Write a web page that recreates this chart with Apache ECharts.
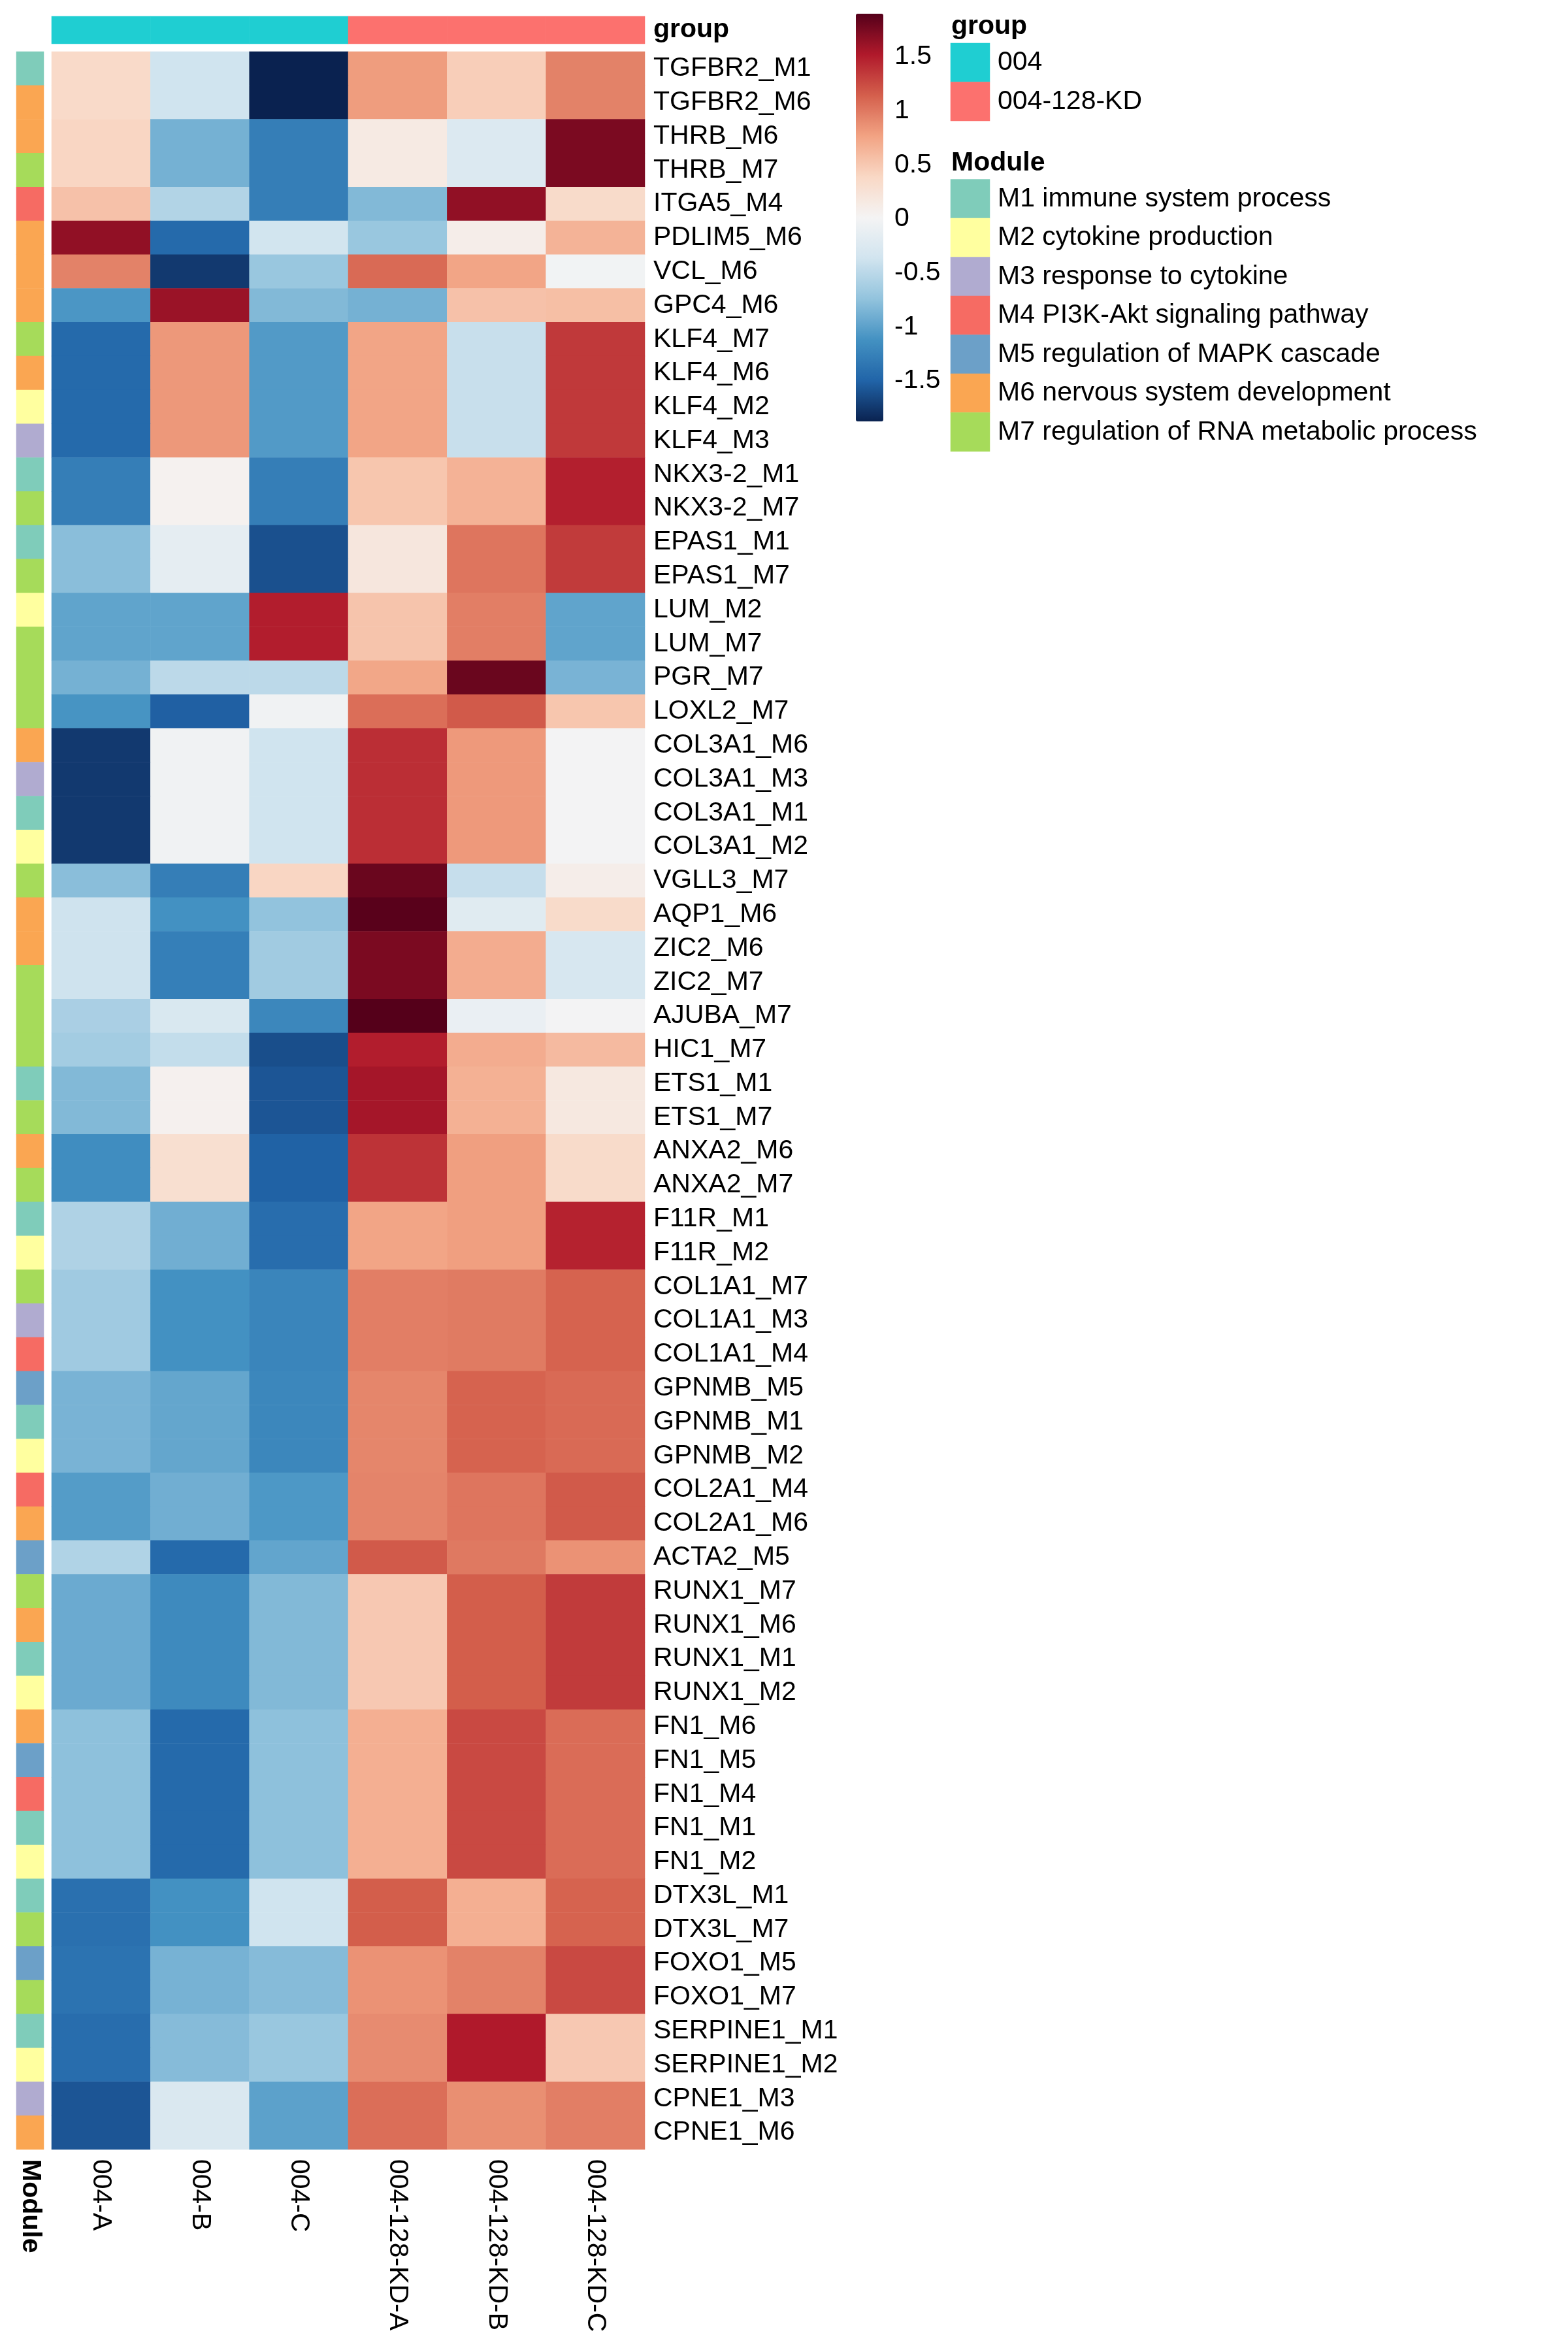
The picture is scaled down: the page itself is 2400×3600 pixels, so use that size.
<!DOCTYPE html>
<html><head><meta charset="utf-8">
<script src="https://cdn.jsdelivr.net/npm/echarts@6/dist/echarts.min.js"></script>
<style>html,body{margin:0;padding:0;background:#fff}#c{width:2400px;height:3600px}</style>
</head><body><div id="c"></div>
<script>
// ---------------- data ----------------
const samples = ['004-A','004-B','004-C','004-128-KD-A','004-128-KD-B','004-128-KD-C'];
const sampleGroup = [0,0,0,1,1,1];
const groupNames = ['004','004-128-KD'];
const groupColors = ['#1FCED2','#FC716E'];
const moduleNames = ['M1 immune system process','M2 cytokine production','M3 response to cytokine',
  'M4 PI3K-Akt signaling pathway','M5 regulation of MAPK cascade','M6 nervous system development',
  'M7 regulation of RNA metabolic process'];
const moduleColors = ['#7FCCBA','#FFFF9F','#B0ABD0','#F66B63','#6CA0C8','#FAA652','#A6DB5A'];
const rowLabels = ['TGFBR2_M1','TGFBR2_M6','THRB_M6','THRB_M7','ITGA5_M4','PDLIM5_M6','VCL_M6','GPC4_M6',
  'KLF4_M7','KLF4_M6','KLF4_M2','KLF4_M3','NKX3-2_M1','NKX3-2_M7','EPAS1_M1','EPAS1_M7','LUM_M2','LUM_M7',
  'PGR_M7','LOXL2_M7','COL3A1_M6','COL3A1_M3','COL3A1_M1','COL3A1_M2','VGLL3_M7','AQP1_M6','ZIC2_M6','ZIC2_M7',
  'AJUBA_M7','HIC1_M7','ETS1_M1','ETS1_M7','ANXA2_M6','ANXA2_M7','F11R_M1','F11R_M2','COL1A1_M7','COL1A1_M3',
  'COL1A1_M4','GPNMB_M5','GPNMB_M1','GPNMB_M2','COL2A1_M4','COL2A1_M6','ACTA2_M5','RUNX1_M7','RUNX1_M6',
  'RUNX1_M1','RUNX1_M2','FN1_M6','FN1_M5','FN1_M4','FN1_M1','FN1_M2','DTX3L_M1','DTX3L_M7','FOXO1_M5',
  'FOXO1_M7','SERPINE1_M1','SERPINE1_M2','CPNE1_M3','CPNE1_M6'];
const values = [
  [0.36,-0.37,-1.874,0.80,0.46,0.95],
  [0.36,-0.37,-1.874,0.80,0.46,0.95],
  [0.40,-0.88,-1.28,0.15,-0.25,1.74],
  [0.40,-0.88,-1.28,0.15,-0.25,1.74],
  [0.55,-0.55,-1.28,-0.82,1.65,0.35],
  [1.65,-1.45,-0.35,-0.70,0.10,0.65],
  [0.95,-1.74,-0.70,1.08,0.75,-0.02],
  [-1.08,1.61,-0.82,-0.88,0.55,0.57],
  [-1.45,0.83,-1.05,0.75,-0.42,1.35],
  [-1.45,0.83,-1.05,0.75,-0.42,1.35],
  [-1.45,0.83,-1.05,0.75,-0.42,1.35],
  [-1.45,0.83,-1.05,0.75,-0.42,1.35],
  [-1.28,0.05,-1.28,0.52,0.66,1.49],
  [-1.28,0.05,-1.28,0.52,0.66,1.49],
  [-0.78,-0.15,-1.61,0.20,1.02,1.34],
  [-0.78,-0.15,-1.61,0.20,1.02,1.34],
  [-0.98,-0.98,1.50,0.53,0.97,-0.98],
  [-0.98,-0.98,1.50,0.53,0.97,-0.98],
  [-0.88,-0.49,-0.49,0.74,1.81,-0.86],
  [-1.10,-1.52,-0.03,1.06,1.17,0.52],
  [-1.74,-0.03,-0.37,1.41,0.82,0.00],
  [-1.74,-0.03,-0.37,1.41,0.82,0.00],
  [-1.74,-0.03,-0.37,1.41,0.82,0.00],
  [-1.74,-0.03,-0.37,1.41,0.82,0.00],
  [-0.78,-1.28,0.40,1.81,-0.43,0.10],
  [-0.38,-1.12,-0.74,1.88,-0.20,0.35],
  [-0.38,-1.27,-0.65,1.74,0.70,-0.30],
  [-0.38,-1.27,-0.65,1.74,0.70,-0.30],
  [-0.60,-0.28,-1.20,1.898,-0.10,0.00],
  [-0.64,-0.45,-1.62,1.50,0.70,0.60],
  [-0.82,0.06,-1.58,1.565,0.67,0.17],
  [-0.82,0.06,-1.58,1.565,0.67,0.17],
  [-1.15,0.30,-1.51,1.38,0.79,0.35],
  [-1.15,0.30,-1.51,1.38,0.79,0.35],
  [-0.57,-0.90,-1.42,0.75,0.79,1.47],
  [-0.57,-0.90,-1.42,0.75,0.79,1.47],
  [-0.66,-1.12,-1.22,0.97,0.99,1.12],
  [-0.66,-1.12,-1.22,0.97,0.99,1.12],
  [-0.66,-1.12,-1.22,0.97,0.99,1.12],
  [-0.86,-0.96,-1.20,0.93,1.12,1.08],
  [-0.86,-0.96,-1.20,0.93,1.12,1.08],
  [-0.86,-0.96,-1.20,0.93,1.12,1.08],
  [-1.04,-0.90,-1.07,0.94,1.02,1.17],
  [-1.04,-0.90,-1.07,0.94,1.02,1.17],
  [-0.56,-1.45,-0.97,1.17,1.00,0.86],
  [-0.93,-1.18,-0.82,0.50,1.15,1.34],
  [-0.93,-1.18,-0.82,0.50,1.15,1.34],
  [-0.93,-1.18,-0.82,0.50,1.15,1.34],
  [-0.93,-1.18,-0.82,0.50,1.15,1.34],
  [-0.76,-1.45,-0.76,0.68,1.26,1.07],
  [-0.76,-1.45,-0.76,0.68,1.26,1.07],
  [-0.76,-1.45,-0.76,0.68,1.26,1.07],
  [-0.76,-1.45,-0.76,0.68,1.26,1.07],
  [-0.76,-1.45,-0.76,0.68,1.26,1.07],
  [-1.40,-1.12,-0.37,1.15,0.68,1.12],
  [-1.40,-1.12,-0.37,1.15,0.68,1.12],
  [-1.37,-0.87,-0.80,0.86,0.95,1.26],
  [-1.37,-0.87,-0.80,0.86,0.95,1.26],
  [-1.42,-0.80,-0.70,0.90,1.52,0.50],
  [-1.42,-0.80,-0.70,0.90,1.52,0.50],
  [-1.58,-0.27,-1.00,1.06,0.88,0.97],
  [-1.58,-0.27,-1.00,1.06,0.88,0.97]
];
const colorMin = -1.874, colorMax = 1.898;
const colorTicks = [-1.5,-1,-0.5,0,0.5,1,1.5];
const rampColors = ['#0A2250','#2164A8','#4391C2','#92C3DD','#D1E4EF','#F4F4F4',
  '#F9D8C5','#F2A383','#D45F4C','#B0192B','#55001A'];

// ---------------- build ----------------
const FONT = 'Liberation Sans, Arial, Helvetica, sans-serif';
const FS = 41;
const rowModule = rowLabels.map(l => parseInt(l.split('_M').pop(), 10) - 1);
const mainData = [];
values.forEach((row, r) => row.forEach((v, c) => mainData.push([c, r, v])));
const groupData = samples.map((s, c) => [c, 0, sampleGroup[c]]);
const moduleData = rowLabels.map((l, r) => [0, r, rowModule[r]]);
const groupLegendData = groupNames.map((g, i) => [0, i, i]);
const moduleLegendData = moduleNames.map((m, i) => [0, i, i]);

const noLine = {axisLine:{show:false}, axisTick:{show:false}, splitLine:{show:false}, splitArea:{show:false}};
const txt = {fontFamily: FONT, fontSize: FS, color: '#000'};

const chart = echarts.init(document.getElementById('c'), null, {renderer:'canvas'});
chart.setOption({
  backgroundColor: '#fff',
  animation: false,
  textStyle: {fontFamily: FONT},
  title: [
    {text:'group', left:1456, top:20, padding:0, textStyle:{fontFamily:FONT, fontSize:FS, fontWeight:'bold', color:'#000'}},
    {text:'Module', left:1456, top:229, padding:0, textStyle:{fontFamily:FONT, fontSize:FS, fontWeight:'bold', color:'#000'}}
  ],
  grid: [
    {left:79, top:79, width:908, height:3211},
    {left:79, top:25, width:908, height:42},
    {left:25, top:79, width:42, height:3211},
    {left:1310, top:21, width:42, height:624},
    {left:1455, top:66, width:60, height:119},
    {left:1455, top:274.5, width:60, height:416.5}
  ],
  xAxis: [
    Object.assign({type:'category', gridIndex:0, data:samples, position:'bottom',
      axisLabel:Object.assign({rotate:-90, margin:15, interval:0}, txt)}, noLine),
    Object.assign({type:'category', gridIndex:1, data:samples, show:false}, noLine),
    Object.assign({type:'category', gridIndex:2, data:['Module'], position:'bottom',
      axisLabel:Object.assign({rotate:-90, margin:15, fontWeight:'bold'}, txt)}, noLine),
    {type:'category', gridIndex:3, data:[''], show:false},
    {type:'category', gridIndex:4, data:[''], show:false},
    {type:'category', gridIndex:5, data:[''], show:false}
  ],
  yAxis: [
    Object.assign({type:'category', gridIndex:0, data:rowLabels, inverse:true, position:'right',
      axisLabel:Object.assign({margin:13, interval:0}, txt)}, noLine),
    Object.assign({type:'category', gridIndex:1, data:['group'], position:'right',
      axisLabel:Object.assign({margin:13, fontWeight:'bold'}, txt)}, noLine),
    {type:'category', gridIndex:2, data:rowLabels, inverse:true, show:false},
    Object.assign({type:'value', gridIndex:3, min:colorMin, max:colorMax, position:'right',
      axisLabel:Object.assign({margin:17, customValues:colorTicks}, txt)}, noLine),
    Object.assign({type:'category', gridIndex:4, data:groupNames, inverse:true, position:'right',
      axisLabel:Object.assign({margin:12, interval:0}, txt)}, noLine),
    Object.assign({type:'category', gridIndex:5, data:moduleNames, inverse:true, position:'right',
      axisLabel:Object.assign({margin:12, interval:0}, txt)}, noLine)
  ],
  visualMap: [
    {type:'continuous', seriesIndex:0, dimension:2, min:colorMin, max:colorMax,
      inRange:{color:rampColors}, left:1310, top:21, itemWidth:42, itemHeight:624,
      padding:0, calculable:false, hoverLink:false, text:null, showLabel:false},
    {type:'piecewise', seriesIndex:[1,3], dimension:2, show:false,
      pieces: groupColors.map((c, i) => ({value:i, color:c}))},
    {type:'piecewise', seriesIndex:[2,4], dimension:2, show:false,
      pieces: moduleColors.map((c, i) => ({value:i, color:c}))}
  ],
  series: [
    {type:'heatmap', xAxisIndex:0, yAxisIndex:0, data:mainData, itemStyle:{borderWidth:0}, emphasis:{disabled:true}},
    {type:'heatmap', xAxisIndex:1, yAxisIndex:1, data:groupData, itemStyle:{borderWidth:0}, emphasis:{disabled:true}},
    {type:'heatmap', xAxisIndex:2, yAxisIndex:2, data:moduleData, itemStyle:{borderWidth:0}, emphasis:{disabled:true}},
    {type:'heatmap', xAxisIndex:4, yAxisIndex:4, data:groupLegendData, itemStyle:{borderWidth:0}, emphasis:{disabled:true}},
    {type:'heatmap', xAxisIndex:5, yAxisIndex:5, data:moduleLegendData, itemStyle:{borderWidth:0}, emphasis:{disabled:true}}
  ]
});
</script></body></html>
